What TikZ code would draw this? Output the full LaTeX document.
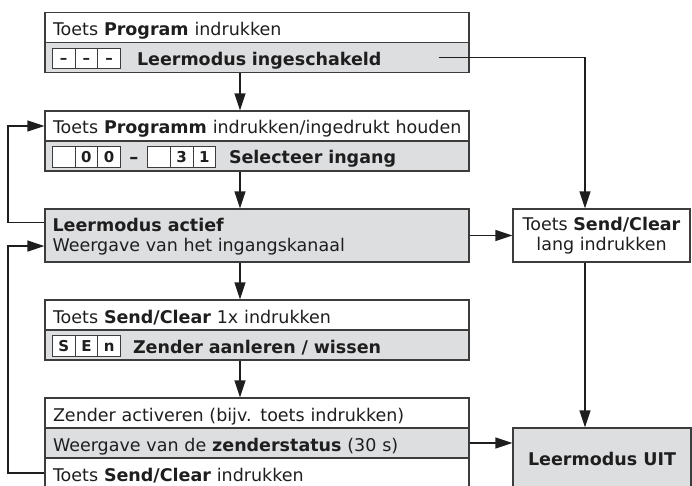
\documentclass[tikz,border=0pt]{standalone}
\usepackage{fontspec}
\setmainfont{DejaVu Sans}
\usetikzlibrary{arrows.meta,calc}
\definecolor{framegray}{RGB}{60,60,60}
\definecolor{panelgray}{RGB}{221,222,224}
\definecolor{inkblack}{RGB}{30,30,30}

\tikzset{
  row/.style={draw=framegray, line width=1.3pt, minimum width=424pt, minimum height=30pt,
    text width=408pt, inner xsep=8pt, inner ysep=0pt, align=left, text height=17pt,
    text depth=1pt, text=inkblack, font=\fontsize{17.5}{20}\selectfont},
  greyrow/.style={row, fill=panelgray},
  cell/.style={draw=framegray, line width=1pt, fill=white, minimum width=22.7pt,
    minimum height=20.5pt, inner sep=0pt, text height=10.9pt, text depth=0pt,
    text=inkblack, font=\fontsize{15}{15}\selectfont\bfseries},
  flow/.style={draw=inkblack, line width=1.4pt, -{Triangle[length=17pt,width=11pt]}},
}

\begin{document}
\begin{tikzpicture}[x=1pt,y=-1pt]
    \useasboundingbox (0,0) rectangle (692,486);
    \clip (0,0) rectangle (692,486);

    % Left column
    \node[row] (b1r1) at (257,27.5) {Toets \textbf{Program} indrukken};
    \node[greyrow] (b1r2) at (257,57.5) {\hspace*{84pt}\textbf{Leermodus ingeschakeld}};
    \foreach \d [count=\i] in {–,–,–}
        \node[cell] (m\i) at ($(b1r2.west)+(-3.35+22.7*\i,1)$) {\d};

    \node[row] (b2r1) at (257,126) {\mbox{Toets \textbf{Programm} indrukken/ingedrukt houden}};
    \node[greyrow] (b2r2) at (257,156) {\hspace*{176pt}\textbf{Selecteer ingang}};
    \foreach \d [count=\i] in {{},0,0}
        \node[cell] (lo\i) at ($(b2r2.west)+(-3.35+22.7*\i,1)$) {\d};
    \node[anchor=base, inner sep=0pt, text=inkblack, font=\fontsize{18}{20}\selectfont\bfseries] (sep2) at ($(b2r2.west)+(89.5,8)$) {–};
    \foreach \d [count=\i] in {{},3,1}
        \node[cell] (hi\i) at ($(b2r2.west)+(91.95+22.7*\i,1)$) {\d};

    \node[draw=framegray, fill=panelgray, line width=1.3pt, minimum width=424pt, minimum height=53pt] (b3) at (257,235.5) {};
    \node[anchor=base west, inner sep=0pt, text height=17pt, text depth=0pt, text=inkblack, font=\fontsize{17.5}{20}\selectfont\bfseries] (t3a) at ($(b3.north west)+(8,22.7)$) {Leermodus actief};
    \node[anchor=base west, inner sep=0pt, text height=10pt, text depth=0pt, text=inkblack, font=\fontsize{17.5}{20}\selectfont] (t3b) at ($(b3.north west)+(8,42.7)$) {Weergave van het ingangskanaal};

    \node[row] (b4r1) at (257,315) {Toets \textbf{Send/Clear} 1x indrukken};
    \node[greyrow] (b4r2) at (257,345) {\hspace*{80pt}\textbf{Zender aanleren / wissen}};
    \foreach \d [count=\i] in {S,E,n}
        \node[cell] (s\i) at ($(b4r2.west)+(-3.35+22.7*\i,1)$) {\d};

    \node[row] (b5r1) at (257,413) {Zender activeren (bijv. toets indrukken)};
    \node[greyrow] (b5r2) at (257,443) {Weergave van de \textbf{zenderstatus} (30 s)};
    \node[row] (b5r3) at (257,473) {Toets \textbf{Send/Clear} indrukken};

    % Right column
    \node[draw=framegray, fill=white, line width=1.3pt, minimum width=177pt, minimum height=53pt, inner sep=0pt, align=center, text=inkblack, font=\fontsize{17.5}{20}\selectfont] (lang) at (601.5,235.5) {Toets \textbf{Send/Clear}\\lang indrukken};
    \node[draw=framegray, fill=panelgray, line width=1.3pt, minimum width=178pt, minimum height=62pt, text=inkblack, font=\fontsize{17.5}{20}\selectfont\bfseries] (uit) at (602,459) {Leermodus UIT};

    % Main flow
    \coordinate (spine) at (240,0);
    \draw[flow] (b1r2.south -| spine) -- (b2r1.north -| spine);
    \draw[flow] (b2r2.south -| spine) -- (b3.north -| spine);
    \draw[flow] (b3.south -| spine) -- (b4r1.north -| spine);
    \draw[flow] (b4r2.south -| spine) -- (b5r1.north -| spine);

    % Exit to Leermodus UIT
    \coordinate (rspine) at (585,0);
    \draw[flow] ($(b1r2.east)+(-31,0)$) -| (lang.north -| rspine);
    \draw[flow] (b3.east) -- (lang.west);
    \draw[flow] (lang.south -| rspine) -- (uit.north -| rspine);
    \draw[flow] (b5r2.east) -- (b5r2.east -| uit.west);

    % Feedback loops
    \coordinate (loopx) at (8,0);
    \draw[flow] (t3a.west -| b3.west) -- (t3a.west -| loopx) |- (b2r1.west);
    \draw[flow] (b5r3.west) -- (b5r3.west -| loopx) |- (t3b.west -| b3.west);
\end{tikzpicture}
\end{document}
